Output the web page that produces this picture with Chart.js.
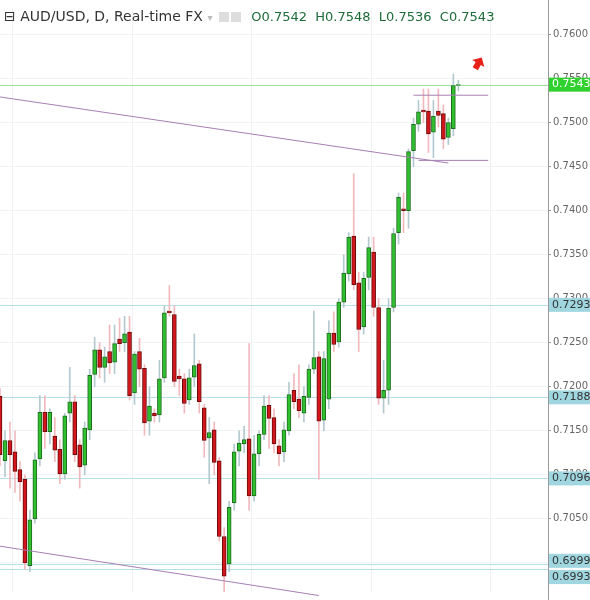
<!DOCTYPE html>
<html>
<head>
<meta charset="utf-8">
<script src="https://cdn.jsdelivr.net/npm/chart.js"></script>
<style>
  body { margin: 0; background: #fff; }
  #wrap { position: relative; width: 590px; height: 600px; }
  #title { position: absolute; left: 4px; top: 8px; font-family: "DejaVu Sans", sans-serif; font-size: 14px; color: #333; white-space: nowrap; }
  #title .ohlc { color: #1e6b3a; margin-left: 6px; font-size: 13px; }
  #title .ico { display: inline-block; width: 10px; height: 10px; background: #ddd; margin-left: 2px; vertical-align: -1px; }
</style>
</head>
<body>
<div id="wrap">
  <canvas id="chart" width="590" height="600"></canvas>
  <div id="title">⊟ AUD/USD, D, Real-time FX <span style="color:#bbb;font-size:10px">▾</span>
    <span class="ico"></span><span class="ico"></span>
    <span class="ohlc">O0.7542&nbsp; H0.7548&nbsp; L0.7536&nbsp; C0.7543</span></div>
</div>
<script>
// daily candles
const opens  = [0.7189,0.7116,0.7139,0.7126,0.7106,0.7095,0.6997,0.7050,0.7118,0.7171,0.7149,0.7144,0.7129,0.7101,0.7170,0.7183,0.7134,0.7111,0.7151,0.7214,
                0.7242,0.7222,0.7240,0.7228,0.7254,0.7250,0.7262,0.7193,0.7240,0.7221,0.7161,0.7170,0.7168,0.7210,0.7286,0.7282,0.7212,0.7209,0.7185,0.7211,
                0.7226,0.7176,0.7142,0.7151,0.7116,0.7030,0.6999,0.7068,0.7127,0.7135,0.7141,0.7076,0.7124,0.7146,0.7179,0.7165,0.7133,0.7126,0.7150,0.7196,
                0.7186,0.7170,0.7188,0.7220,0.7234,0.7162,0.7186,0.7261,0.7251,0.7296,0.7328,0.7371,0.7318,0.7268,0.7324,0.7353,0.7290,0.7187,0.7196,0.7290,
                0.7375,0.7402,0.7400,0.7468,0.7498,0.7514,0.7513,0.7489,0.7513,0.7510,0.7483,0.7493,0.7542];
const highs  = [0.7198,0.7150,0.7160,0.7150,0.7115,0.7100,0.7060,0.7125,0.7190,0.7190,0.7175,0.7165,0.7140,0.7170,0.7222,0.7190,0.7140,0.7160,0.7220,0.7256,
                0.7250,0.7245,0.7270,0.7270,0.7278,0.7280,0.7280,0.7240,0.7255,0.7225,0.7200,0.7175,0.7230,0.7292,0.7315,0.7292,0.7220,0.7215,0.7220,0.7260,
                0.7230,0.7180,0.7165,0.7160,0.7120,0.7040,0.7070,0.7135,0.7150,0.7155,0.7249,0.7145,0.7150,0.7190,0.7190,0.7175,0.7140,0.7160,0.7205,0.7215,
                0.7225,0.7200,0.7225,0.7286,0.7240,0.7240,0.7275,0.7285,0.7300,0.7350,0.7375,0.7442,0.7330,0.7330,0.7370,0.7370,0.7300,0.7230,0.7300,0.7380,
                0.7420,0.7420,0.7470,0.7505,0.7525,0.7538,0.7538,0.7525,0.7538,0.7520,0.7505,0.7555,0.7548];
const lows   = [0.7110,0.7098,0.7085,0.7080,0.7070,0.6993,0.6990,0.7045,0.7110,0.7130,0.7135,0.7115,0.7090,0.7095,0.7160,0.7115,0.7085,0.7100,0.7140,0.7200,
                0.7210,0.7205,0.7215,0.7215,0.7240,0.7240,0.7185,0.7180,0.7200,0.7145,0.7145,0.7160,0.7160,0.7205,0.7280,0.7200,0.7190,0.7170,0.7180,0.7200,
                0.7170,0.7120,0.7090,0.7100,0.7025,0.6967,0.6990,0.7060,0.7110,0.7125,0.7060,0.7070,0.7110,0.7140,0.7130,0.7125,0.7110,0.7115,0.7145,0.7175,
                0.7165,0.7160,0.7180,0.7215,0.7095,0.7150,0.7175,0.7240,0.7245,0.7290,0.7320,0.7310,0.7240,0.7260,0.7310,0.7280,0.7180,0.7170,0.7180,0.7285,
                0.7362,0.7375,0.7380,0.7450,0.7490,0.7500,0.7466,0.7460,0.7495,0.7470,0.7475,0.7485,0.7536];
const closes = [0.7123,0.7139,0.7123,0.7104,0.7092,0.7000,0.7049,0.7117,0.7171,0.7149,0.7171,0.7128,0.7101,0.7167,0.7183,0.7123,0.7109,0.7153,0.7213,0.7242,
                0.7222,0.7234,0.7227,0.7249,0.7249,0.7260,0.7190,0.7237,0.7220,0.7159,0.7178,0.7167,0.7209,0.7284,0.7284,0.7206,0.7209,0.7181,0.7210,0.7224,
                0.7183,0.7139,0.7148,0.7114,0.7030,0.6985,0.7063,0.7126,0.7136,0.7140,0.7076,0.7124,0.7146,0.7178,0.7164,0.7135,0.7124,0.7151,0.7191,0.7183,
                0.7173,0.7189,0.7220,0.7233,0.7161,0.7232,0.7261,0.7248,0.7296,0.7329,0.7370,0.7316,0.7265,0.7323,0.7358,0.7290,0.7187,0.7196,0.7289,0.7374,
                0.7415,0.7400,0.7467,0.7498,0.7512,0.7512,0.7487,0.7507,0.7508,0.7481,0.7500,0.7542,0.7543];
const emptySlots = 18;

// price levels marked on the right axis
const levels      = [0.7543, 0.7293, 0.7188, 0.7096, 0.6999, 0.6993];
const levelColors = ['#2fd12f', '#9fd6df', '#9fd6df', '#9fd6df', '#9fd6df', '#9fd6df'];
const levelLines  = ['#9ce29c', '#b6dfe6', '#b6dfe6', '#b6dfe6', '#b6dfe6', '#b6dfe6'];
const labelShift  = [0, 0, 0, 0, -3, 8];  // keeps the two bottom tags apart

// drawn trend lines: [fromIndex, fromValue, toIndex, toValue]
const trendLines = [
  [0, 0.7529, 90, 0.7454],
  [0, 0.7019, 64, 0.6963],
  [83, 0.7531, 98, 0.7531],
  [84, 0.7457, 98, 0.7457]
];

const labels = Array.from({ length: opens.length + emptySlots }, () => '');
const up = opens.map((o, i) => closes[i] >= o);

const overlay = {
  id: 'overlay',
  beforeDatasetsDraw(chart) {
    const { ctx, chartArea: a, scales: { y } } = chart;
    ctx.save();
    levels.forEach((v, i) => {
      const py = Math.round(y.getPixelForValue(v)) + 0.5;
      ctx.strokeStyle = levelLines[i];
      ctx.lineWidth = 1;
      ctx.beginPath(); ctx.moveTo(a.left, py); ctx.lineTo(a.right, py); ctx.stroke();
    });
    ctx.restore();
  },
  afterDatasetsDraw(chart) {
    const { ctx, scales: { x, y } } = chart;
    ctx.save();
    ctx.strokeStyle = '#a77fb4';
    ctx.lineWidth = 1;
    trendLines.forEach(t => {
      ctx.beginPath();
      ctx.moveTo(x.getPixelForValue(t[0]), y.getPixelForValue(t[1]));
      ctx.lineTo(x.getPixelForValue(t[2]), y.getPixelForValue(t[3]));
      ctx.stroke();
    });
    // red arrow near last candle
    const ax = x.getPixelForValue(opens.length + 3), ay = y.getPixelForValue(0.7567);
    ctx.translate(ax, ay); ctx.rotate(Math.PI / 6);
    ctx.fillStyle = '#e8211b';
    ctx.beginPath();
    ctx.moveTo(0, -7); ctx.lineTo(7, 0); ctx.lineTo(3, 0); ctx.lineTo(3, 6);
    ctx.lineTo(-3, 6); ctx.lineTo(-3, 0); ctx.lineTo(-7, 0); ctx.closePath(); ctx.fill();
    ctx.restore();
  },
  afterDraw(chart) {
    const { ctx, chartArea: a, scales: { y } } = chart;
    ctx.save();
    ctx.strokeStyle = '#999';
    ctx.beginPath(); ctx.moveTo(a.right + 0.5, 0); ctx.lineTo(a.right + 0.5, 600); ctx.stroke();
    ctx.font = '11px "DejaVu Sans", sans-serif';
    ctx.textBaseline = 'middle';
    levels.forEach((v, i) => {
      const py = y.getPixelForValue(v) + labelShift[i];
      ctx.fillStyle = levelColors[i];
      ctx.fillRect(a.right + 1, py - 7, 42, 14);
      ctx.fillStyle = i === 0 ? '#fff' : '#333';
      ctx.fillText(v.toFixed(4), a.right + 4, py);
    });
    ctx.restore();
  }
};

new Chart(document.getElementById('chart'), {
  type: 'bar',
  data: {
    labels,
    datasets: [
      {
        label: 'wick',
        data: lows.map((l, i) => [l, highs[i]]),
        backgroundColor: up.map(u => u ? '#b4c9cf' : '#f1b9bd'),
        barThickness: 1,
        grouped: false,
        order: 2
      },
      {
        label: 'body',
        data: opens.map((o, i) => [o, closes[i]]),
        backgroundColor: up.map(u => u ? '#2fbf2f' : '#d2161c'),
        borderColor: up.map(u => u ? '#1d6b1d' : '#6b0b0b'),
        borderWidth: 1,
        borderSkipped: false,
        barThickness: 4,
        grouped: false,
        order: 1
      }
    ]
  },
  options: {
    responsive: false,
    animation: false,
    layout: { padding: 0 },
    plugins: { legend: { display: false }, tooltip: { enabled: false } },
    scales: {
      x: {
        offset: false,
        ticks: { display: false },
        border: { display: false },
        grid: { color: ctx => ctx.index % 24 === 3 ? '#eef2f4' : 'transparent', drawTicks: false }
      },
      y: {
        position: 'right',
        min: 0.6967, max: 0.7630,
        afterFit: s => { s.width = 42; },
        afterBuildTicks: s => {
          const t = [];
          for (let k = 0; k <= 12; k++) t.push({ value: 0.7000 + k * 0.005 });
          s.ticks = t;
        },
        border: { display: false },
        grid: { color: '#f1f3f5', tickColor: '#999', tickLength: 3 },
        ticks: {
          color: '#666',
          font: { family: 'DejaVu Sans', size: 10 },
          padding: 2,
          callback: v => v.toFixed(4)
        }
      }
    }
  },
  plugins: [overlay]
});
</script>
</body>
</html>
